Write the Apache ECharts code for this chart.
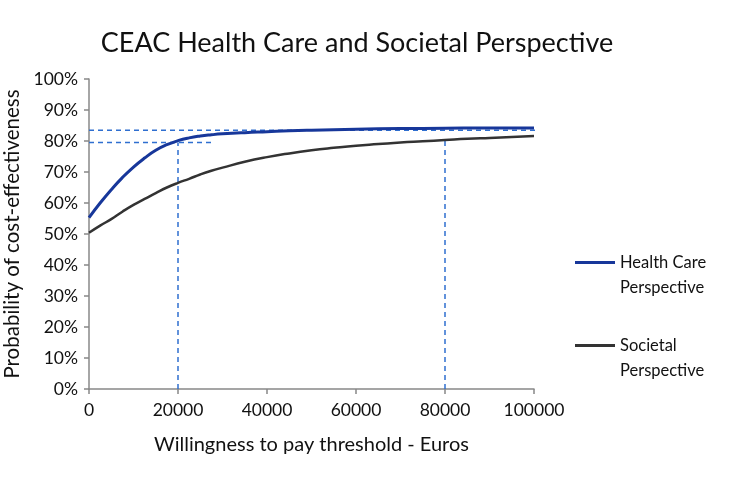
<!DOCTYPE html>
<html><head><meta charset="utf-8">
<script src="https://cdn.jsdelivr.net/npm/echarts@6/dist/echarts.min.js"></script>
<style>html,body{margin:0;padding:0;background:#fff}#c{width:750px;height:486px}</style>
</head><body><div id="c"></div>
<script>
var hcX = [0,2500,5000,7500,10000,12500,15000,17500,20000,22500,25000,27500,30000,35000,40000,45000,50000,60000,70000,80000,90000,100000];
var hcY = [0.553,0.600,0.643,0.682,0.716,0.745,0.770,0.788,0.801,0.810,0.816,0.820,0.823,0.827,0.830,0.833,0.835,0.838,0.840,0.841,0.842,0.842];
var socX = [0,2500,5000,7500,10000,12500,15000,17500,20000,22500,25000,27500,30000,35000,40000,45000,50000,55000,60000,65000,70000,75000,80000,85000,90000,95000,100000];
var socY = [0.504,0.527,0.548,0.572,0.594,0.613,0.632,0.650,0.665,0.678,0.692,0.704,0.714,0.733,0.748,0.760,0.770,0.778,0.785,0.790,0.795,0.799,0.803,0.807,0.810,0.813,0.816];
var refH1 = [[0,0.835],[110000,0.835]];
var refH2 = [[0,0.795],[28300,0.795]];
var refV1 = [[20000,0],[20000,0.795]];
var refV2 = [[80000,0],[80000,0.809]];
var xTicks = {min:0,max:100000,interval:20000};
var yTicks = {min:0,max:1,interval:0.1};

function pairs(xs, ys){ return xs.map(function(x,i){return [x, ys[i]];}); }
var dashStyle = {color:'#2f6fd0', width:1.5, type:[5,4]};
function refSeries(d){ return {type:'line', data:d, symbol:'none', silent:true, clip:false, lineStyle:dashStyle, z:1}; }

var chart = echarts.init(document.getElementById('c'), null, {renderer:'canvas'});
var font = 'Lato, "Open Sans", sans-serif';
function legendCfg(name, label, top){
  return {data:[{name:name, icon:'rect'}], orient:'vertical', left:570, top:top, itemWidth:40, itemHeight:3, itemGap:0,
    formatter:function(){return label;},
    textStyle:{fontFamily:font, fontSize:16.5, color:'#111', lineHeight:25}};
}
chart.setOption({
  animation:false,
  title:{text:'CEAC Health Care and Societal Perspective', left:352, top:25, textAlign:'center',
    textStyle:{fontFamily:font, fontSize:27, fontWeight:'normal', color:'#111'}},
  grid:{left:89, right:216, top:79, bottom:97, containLabel:false, outerBoundsMode:'none'},
  legend:[
    legendCfg('Health Care Perspective', '\u00a0\nHealth Care\nPerspective', 220),
    legendCfg('Societal Perspective', '\u00a0\nSocietal\nPerspective', 303)
  ],
  xAxis:{type:'value', min:xTicks.min, max:xTicks.max, interval:xTicks.interval,
    name:'Willingness to pay threshold - Euros', nameLocation:'middle', nameGap:46,
    nameTextStyle:{fontFamily:font, fontSize:20, color:'#111'},
    axisLine:{show:true, lineStyle:{color:'#888', width:1.5}},
    axisTick:{show:true, length:5, lineStyle:{color:'#888', width:1.5}},
    axisLabel:{fontFamily:font, fontSize:17.5, color:'#111', margin:12, formatter:function(v){return String(v);}},
    splitLine:{show:false}},
  yAxis:{type:'value', min:yTicks.min, max:yTicks.max, interval:yTicks.interval,
    name:'Probability of cost-effectiveness', nameLocation:'middle', nameGap:66, nameRotate:90,
    nameTextStyle:{fontFamily:font, fontSize:20.5, color:'#111'},
    axisLine:{show:true, lineStyle:{color:'#888', width:1.5}},
    axisTick:{show:true, length:5, lineStyle:{color:'#888', width:1.5}},
    axisLabel:{fontFamily:font, fontSize:17.5, color:'#111', margin:11,
      formatter:function(v){return Math.round(v*100)+'%';}},
    splitLine:{show:false}},
  series:[
    refSeries(refH1), refSeries(refH2), refSeries(refV1), refSeries(refV2),
    {name:'Societal Perspective', type:'line', data:pairs(socX,socY), smooth:true, symbol:'none', z:3,
      lineStyle:{color:'#333', width:2.5}, itemStyle:{color:'#333'}},
    {name:'Health Care Perspective', type:'line', data:pairs(hcX,hcY), smooth:true, symbol:'none', z:4,
      lineStyle:{color:'#17379a', width:3}, itemStyle:{color:'#17379a'}}
  ]
});
</script></body></html>
